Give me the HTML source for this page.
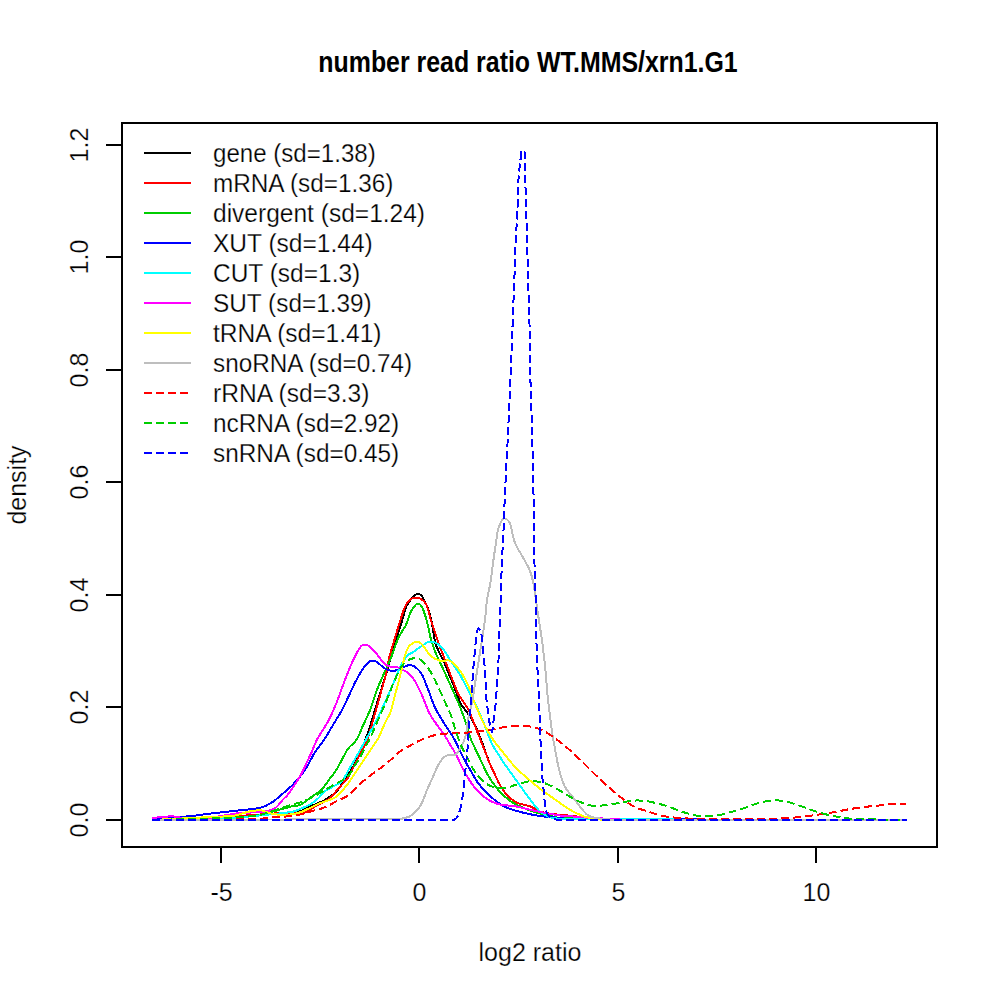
<!DOCTYPE html>
<html><head><meta charset="utf-8"><style>
html,body{margin:0;padding:0;background:#fff;width:1000px;height:1000px;overflow:hidden}
svg{display:block}
.t{font-family:"Liberation Sans",sans-serif;font-size:25px;fill:#000;stroke:#fff;stroke-width:0.25px}
.b{font-family:"Liberation Sans",sans-serif;font-size:30px;font-weight:bold;fill:#000}
</style></head><body>
<svg width="1000" height="1000" viewBox="0 0 1000 1000">
<rect x="0" y="0" width="1000" height="1000" fill="#fff"/>
<text x="528" y="72" text-anchor="middle" class="b" textLength="419.3960878243513" lengthAdjust="spacingAndGlyphs">number read ratio WT.MMS/xrn1.G1</text>
<text x="530" y="961" text-anchor="middle" class="t">log2 ratio</text>
<text x="0" y="0" transform="translate(26,485) rotate(-90)" text-anchor="middle" class="t">density</text>
<g shape-rendering="crispEdges">
<path d="M152.0,820.0 C157.3,819.9 162.7,819.7 168.0,819.6 C173.3,819.4 178.7,819.3 184.0,819.1 C189.3,819.0 194.5,819.0 200.0,818.7 C205.7,818.4 211.7,817.9 217.6,817.5 C223.5,817.1 229.3,816.7 235.2,816.3 C241.1,815.9 246.9,815.4 252.8,815.0 C258.7,814.6 264.5,814.2 270.4,813.8 C276.3,813.4 282.7,813.1 288.0,812.6 C292.4,812.2 296.1,812.3 300.0,811.2 C304.1,810.1 308.0,807.6 312.0,805.8 C316.0,804.0 320.1,802.6 324.0,800.4 C328.1,798.1 332.9,795.1 336.0,792.0 C338.6,789.4 340.0,786.4 342.0,783.6 C344.0,780.8 345.9,778.5 348.0,775.2 C350.9,770.6 355.2,763.4 357.6,758.4 C359.4,754.6 360.4,751.6 361.8,748.2 C363.2,744.8 364.5,741.9 366.0,738.0 C367.9,732.9 370.2,725.8 372.0,720.0 C373.7,714.5 375.2,709.3 376.8,704.0 C378.4,698.8 380.0,693.6 381.6,688.4 C383.2,683.2 384.8,678.1 386.4,672.8 C388.0,667.3 389.8,661.0 391.2,656.0 C392.4,652.0 393.3,648.8 394.4,645.2 C395.5,641.6 396.4,638.1 397.6,634.4 C398.8,630.5 400.2,626.7 401.6,622.4 C403.2,617.5 404.3,610.8 406.4,606.4 C408.0,603.0 410.0,600.2 412.0,598.0 C413.6,596.3 415.3,594.3 417.0,594.0 C418.4,593.7 420.0,594.3 421.2,595.2 C422.7,596.4 423.7,599.4 424.8,601.6 C426.0,603.9 427.0,606.1 428.0,608.8 C429.2,612.1 430.3,616.2 431.2,620.0 C432.1,623.9 432.7,628.0 433.4,632.0 C434.1,636.0 434.2,639.7 435.6,644.0 C437.4,649.5 441.7,656.8 444.0,662.0 C445.7,665.9 446.8,668.8 448.2,672.2 C449.6,675.6 451.0,678.9 452.4,682.4 C453.8,685.9 455.2,689.6 456.6,693.2 C458.0,696.8 458.9,700.6 460.8,704.0 C462.7,707.4 465.8,710.4 468.0,713.6 C470.2,716.8 472.0,719.5 474.0,723.2 C476.5,727.9 479.2,734.9 481.2,740.0 C482.9,744.2 484.0,747.7 485.4,751.6 C486.8,755.5 488.1,759.5 489.6,763.2 C491.1,766.7 492.8,770.0 494.4,773.4 C496.0,776.8 497.3,780.2 499.2,783.6 C501.2,787.2 503.5,791.2 506.4,794.4 C509.4,797.7 513.2,800.8 517.2,802.8 C521.2,804.8 526.4,804.8 530.4,806.4 C533.9,807.8 536.5,810.2 540.0,811.5 C543.7,812.8 547.7,813.4 552.0,814.0 C556.9,814.7 563.2,815.0 568.0,815.5 C572.0,815.9 575.3,816.3 579.0,816.8 C582.7,817.2 586.0,817.7 590.0,818.0 C594.6,818.4 600.0,818.5 605.0,818.8 C610.0,819.0 614.7,819.4 620.0,819.5 C626.0,819.7 632.7,819.5 639.0,819.5 C645.3,819.6 651.7,819.6 658.0,819.6 C664.3,819.6 670.7,819.6 677.0,819.6 C683.3,819.7 689.7,819.7 696.0,819.7 C702.3,819.7 708.7,819.7 715.0,819.7 C721.3,819.7 727.7,819.8 734.0,819.8 C740.3,819.8 746.7,819.8 753.0,819.8 C759.3,819.8 765.7,819.8 772.0,819.9 C778.3,819.9 784.7,819.9 791.0,819.9 C797.3,819.9 803.7,819.9 810.0,820.0 C816.3,820.0 822.7,820.0 829.0,820.0" fill="none" stroke="#000000" stroke-width="2" stroke-linejoin="round"/>
<path d="M152.0,820.0 C157.3,819.9 162.7,819.7 168.0,819.6 C173.3,819.4 178.7,819.3 184.0,819.1 C189.3,819.0 194.5,819.0 200.0,818.7 C205.7,818.4 211.7,817.9 217.6,817.5 C223.5,817.1 229.3,816.7 235.2,816.3 C241.1,815.9 246.9,815.4 252.8,815.0 C258.7,814.6 264.5,814.2 270.4,813.8 C276.3,813.4 282.4,812.6 288.0,812.6 C293.0,812.6 297.8,814.6 302.4,813.6 C307.2,812.5 311.6,808.4 316.2,805.8 C320.8,803.2 326.1,801.2 330.0,798.0 C333.6,795.1 336.0,791.2 339.0,787.8 C342.0,784.4 345.4,781.3 348.0,777.6 C350.6,773.8 352.3,769.3 354.4,765.2 C356.5,761.1 358.7,756.9 360.8,752.8 C362.9,748.7 365.6,744.4 367.2,740.4 C368.6,736.9 369.2,733.6 370.2,730.2 C371.2,726.8 372.1,723.8 373.2,720.0 C374.5,715.3 376.1,709.5 377.6,704.3 C379.1,699.0 380.5,693.8 382.0,688.5 C383.5,683.3 385.1,678.2 386.4,672.8 C387.7,667.3 388.4,661.1 389.6,656.0 C390.7,651.6 392.0,648.0 393.2,644.0 C394.4,640.0 395.6,635.9 396.8,632.0 C397.9,628.4 398.7,625.4 400.0,621.6 C401.6,616.8 403.2,609.7 405.6,605.6 C407.4,602.5 409.8,599.5 412.0,598.4 C413.6,597.6 415.3,597.9 416.8,598.0 C418.3,598.1 419.6,598.2 421.0,599.0 C422.7,600.0 424.6,601.6 426.0,604.0 C428.2,607.7 429.3,615.2 430.8,620.0 C432.1,624.0 433.2,627.2 434.4,630.8 C435.6,634.4 436.6,637.8 438.0,641.6 C439.6,646.1 441.6,651.2 443.4,656.0 C445.2,660.8 447.0,665.8 448.8,670.4 C450.4,674.6 452.0,678.4 453.6,682.4 C455.2,686.4 456.3,690.3 458.4,694.4 C460.9,699.1 465.4,703.9 468.0,708.8 C470.5,713.5 471.9,718.1 474.0,723.2 C476.3,728.9 479.1,736.3 481.2,741.6 C482.8,745.7 484.0,748.8 485.4,752.4 C486.8,756.0 488.1,759.7 489.6,763.2 C491.1,766.7 492.8,770.0 494.4,773.4 C496.0,776.8 497.3,780.2 499.2,783.6 C501.2,787.2 503.5,791.2 506.4,794.4 C509.4,797.7 513.2,800.8 517.2,802.8 C521.2,804.8 526.4,804.8 530.4,806.4 C533.9,807.8 536.5,810.2 540.0,811.5 C543.7,812.8 547.7,813.4 552.0,814.0 C556.9,814.7 563.2,815.0 568.0,815.5 C572.0,815.9 575.3,816.3 579.0,816.8 C582.7,817.2 586.0,817.7 590.0,818.0 C594.6,818.4 600.0,818.5 605.0,818.8 C610.0,819.0 614.7,819.4 620.0,819.5 C625.9,819.7 632.6,819.5 638.9,819.5 C645.1,819.5 651.4,819.6 657.7,819.6 C664.0,819.6 670.3,819.6 676.6,819.6 C682.9,819.6 689.1,819.6 695.4,819.6 C701.7,819.7 708.0,819.7 714.3,819.7 C720.6,819.7 726.9,819.7 733.1,819.7 C739.4,819.7 745.7,819.7 752.0,819.8 C758.3,819.8 764.6,819.8 770.9,819.8 C777.1,819.8 783.4,819.8 789.7,819.8 C796.0,819.8 802.3,819.8 808.6,819.9 C814.9,819.9 821.1,819.9 827.4,819.9 C833.7,819.9 840.0,819.9 846.3,819.9 C852.6,819.9 858.9,820.0 865.1,820.0 C871.4,820.0 877.7,820.0 884.0,820.0" fill="none" stroke="#FF0000" stroke-width="2" stroke-linejoin="round"/>
<path d="M152.0,820.0 C157.8,819.9 163.7,819.9 169.5,819.8 C175.3,819.7 181.2,819.7 187.0,819.6 C192.8,819.5 198.7,819.5 204.5,819.4 C210.3,819.3 216.8,819.5 222.0,819.2 C226.1,819.0 229.3,818.5 233.0,818.1 C236.7,817.7 240.0,817.5 244.0,817.0 C248.9,816.4 255.0,815.9 260.5,814.8 C266.0,813.7 271.5,811.9 277.0,810.4 C282.5,808.9 289.2,806.9 293.5,806.0 C296.1,805.4 297.7,805.9 300.0,805.0 C303.3,803.7 307.2,799.9 310.8,797.3 C314.4,794.7 318.6,792.6 321.6,789.6 C324.5,786.8 326.4,783.2 328.8,780.0 C331.2,776.8 333.8,773.8 336.0,770.4 C338.2,767.0 340.0,763.2 342.0,759.6 C344.0,756.0 345.6,752.1 348.0,748.8 C350.4,745.5 354.0,743.5 356.4,740.0 C359.1,736.0 360.8,730.4 363.0,725.6 C365.2,720.8 367.7,715.8 369.6,711.2 C371.3,707.1 372.4,703.2 373.8,699.2 C375.2,695.2 376.5,691.0 378.0,687.2 C379.3,683.8 380.8,680.8 382.2,677.6 C383.6,674.4 385.0,671.1 386.4,668.0 C387.7,665.0 389.1,662.3 390.4,659.2 C391.8,655.8 393.1,652.0 394.4,648.4 C395.7,644.8 396.7,641.2 398.4,637.6 C400.3,633.6 403.4,630.0 405.6,625.6 C408.0,620.7 409.5,613.5 412.0,609.6 C413.8,606.9 416.2,603.6 418.0,603.5 C419.3,603.4 420.5,604.9 421.6,606.4 C423.3,608.7 424.4,613.1 425.6,616.8 C426.9,620.8 427.8,625.6 428.8,629.6 C429.7,633.2 430.1,636.3 431.2,640.0 C432.4,644.3 434.2,649.2 436.0,653.6 C437.7,657.8 439.7,661.5 441.6,665.6 C443.6,669.9 445.6,674.4 447.6,678.8 C449.6,683.2 451.5,687.3 453.6,692.0 C455.9,697.3 458.7,703.5 460.8,708.8 C462.6,713.4 464.1,717.4 465.6,722.0 C467.3,727.1 468.4,732.8 470.4,738.0 C472.4,743.3 475.4,749.0 477.6,753.6 C479.4,757.4 480.8,760.4 482.4,763.8 C484.0,767.2 485.1,770.3 487.2,774.0 C489.9,778.8 493.9,784.9 498.0,789.6 C502.0,794.1 506.5,798.4 511.2,801.6 C515.7,804.7 520.7,806.8 525.6,808.8 C530.3,810.8 535.6,812.4 540.0,813.6 C543.6,814.6 546.7,815.1 550.0,815.8 C553.3,816.5 556.4,817.5 560.0,818.0 C564.1,818.5 568.9,818.3 573.3,818.5 C577.8,818.7 582.2,818.8 586.7,819.0 C591.1,819.2 595.2,819.4 600.0,819.5 C605.8,819.6 612.8,819.5 619.2,819.5 C625.6,819.6 631.9,819.6 638.3,819.6 C644.7,819.6 651.1,819.6 657.5,819.6 C663.9,819.6 670.3,819.7 676.7,819.7 C683.1,819.7 689.4,819.7 695.8,819.7 C702.2,819.7 708.6,819.7 715.0,819.8 C721.4,819.8 727.8,819.8 734.2,819.8 C740.6,819.8 746.9,819.8 753.3,819.8 C759.7,819.8 766.1,819.9 772.5,819.9 C778.9,819.9 785.3,819.9 791.7,819.9 C798.1,819.9 804.4,819.9 810.8,820.0 C817.2,820.0 823.6,820.0 830.0,820.0" fill="none" stroke="#00CD00" stroke-width="2" stroke-linejoin="round"/>
<path d="M152.0,820.0 C158.1,819.4 164.1,818.8 170.2,818.1 C176.3,817.5 183.4,816.8 188.4,816.3 C192.0,815.9 194.0,815.7 197.5,815.3 C202.1,814.7 208.3,813.8 213.6,813.2 C218.7,812.6 223.7,812.1 228.8,811.5 C233.9,811.0 238.8,810.5 244.0,809.9 C249.4,809.2 255.6,809.1 260.5,807.7 C264.6,806.5 268.0,804.9 271.5,802.7 C275.3,800.4 278.9,797.0 282.5,793.9 C286.2,790.7 290.0,787.7 293.5,784.0 C297.3,780.0 301.6,775.0 304.5,770.8 C306.9,767.4 308.2,764.3 310.1,761.0 C311.9,757.7 313.4,754.5 315.6,751.2 C318.0,747.5 321.5,743.7 324.0,740.0 C326.3,736.6 328.0,733.3 330.0,730.0 C332.0,726.7 334.0,723.3 336.0,720.0 C338.0,716.7 340.0,713.7 342.0,710.0 C344.4,705.6 346.8,700.0 349.2,695.0 C351.6,690.0 353.9,684.7 356.4,680.0 C358.7,675.7 361.0,671.4 363.6,668.0 C365.8,665.1 368.4,661.6 370.8,660.8 C372.4,660.2 373.8,660.7 375.6,661.4 C378.4,662.5 382.1,667.0 385.2,668.6 C387.7,669.9 390.0,670.9 392.4,671.0 C394.8,671.1 397.0,670.0 399.6,669.2 C402.9,668.2 407.0,664.6 410.4,665.0 C413.8,665.4 417.4,668.5 420.0,671.6 C423.2,675.4 425.3,682.6 427.2,687.2 C428.7,690.8 429.6,693.6 430.8,696.8 C432.0,700.0 432.7,702.8 434.4,706.4 C436.7,711.3 440.7,717.8 444.0,723.2 C447.1,728.3 450.9,733.3 453.6,738.0 C456.0,742.1 457.6,746.0 459.6,750.0 C461.6,754.0 463.5,758.2 465.6,762.0 C467.5,765.6 469.6,768.8 471.6,772.2 C473.6,775.6 475.0,778.9 477.6,782.4 C480.7,786.7 485.2,791.6 489.6,795.6 C494.0,799.6 498.7,803.6 504.0,806.4 C509.5,809.3 515.9,810.8 522.0,812.4 C528.0,814.0 534.3,815.1 540.0,816.0 C545.2,816.8 550.0,817.0 555.0,817.5 C560.0,818.0 564.7,818.7 570.0,819.0 C575.9,819.3 582.4,819.0 588.7,819.1 C594.9,819.1 601.1,819.1 607.3,819.1 C613.6,819.2 619.8,819.2 626.0,819.2 C632.2,819.2 638.4,819.2 644.7,819.3 C650.9,819.3 657.1,819.3 663.3,819.3 C669.6,819.4 675.8,819.4 682.0,819.4 C688.2,819.4 694.4,819.4 700.7,819.5 C706.9,819.5 713.1,819.5 719.3,819.5 C725.6,819.6 731.8,819.6 738.0,819.6 C744.2,819.6 750.4,819.6 756.7,819.7 C762.9,819.7 769.1,819.7 775.3,819.7 C781.6,819.8 787.8,819.8 794.0,819.8 C800.2,819.8 806.4,819.8 812.7,819.9 C818.9,819.9 825.1,819.9 831.3,819.9 C837.6,820.0 843.8,820.0 850.0,820.0" fill="none" stroke="#0000FF" stroke-width="2" stroke-linejoin="round"/>
<path d="M152.0,820.0 C157.4,819.9 162.8,819.7 168.2,819.6 C173.6,819.5 179.0,819.4 184.4,819.2 C189.8,819.1 195.2,819.0 200.6,818.9 C206.0,818.7 211.4,818.6 216.8,818.5 C222.2,818.4 228.1,818.4 233.0,818.1 C237.0,817.9 240.3,817.4 244.0,817.0 C247.7,816.6 251.3,816.3 255.0,815.9 C258.7,815.5 262.3,815.2 266.0,814.8 C269.7,814.4 273.0,814.2 277.0,813.7 C281.9,813.1 289.3,812.6 293.5,811.5 C296.2,810.8 297.6,810.0 300.0,809.0 C303.0,807.8 306.9,806.3 310.0,804.5 C312.9,802.8 315.6,800.7 318.0,798.5 C320.2,796.5 321.6,793.9 324.0,792.0 C326.6,789.9 330.0,788.4 333.0,786.6 C336.0,784.8 339.5,783.7 342.0,781.2 C344.6,778.6 346.0,774.4 348.0,771.0 C350.0,767.6 352.1,764.2 354.0,760.8 C355.9,757.6 357.6,754.4 359.4,751.2 C361.2,748.0 363.0,744.9 364.8,741.6 C366.8,738.1 368.8,734.4 370.8,730.8 C372.8,727.2 374.8,724.0 376.8,720.0 C379.2,715.3 381.6,709.5 384.0,704.2 C386.4,698.9 389.2,693.1 391.2,688.4 C392.8,684.6 394.0,681.6 395.4,678.2 C396.8,674.8 397.8,671.5 399.6,668.0 C401.8,663.8 405.4,657.1 408.0,654.8 C409.4,653.5 410.5,653.7 412.0,652.8 C414.3,651.5 417.2,649.0 420.0,647.2 C423.0,645.3 426.4,642.0 429.6,641.6 C432.4,641.2 435.6,642.5 438.0,644.0 C440.4,645.5 442.1,648.0 444.0,650.4 C446.1,653.1 447.8,656.2 450.0,659.6 C452.8,663.9 456.9,669.6 459.6,674.0 C461.8,677.6 463.2,680.8 465.0,684.2 C466.8,687.6 468.5,690.7 470.4,694.4 C472.7,698.8 475.3,703.8 477.6,708.8 C480.1,714.1 482.4,719.9 484.8,725.6 C487.2,731.6 489.5,739.0 492.0,744.0 C493.9,747.8 496.0,750.4 498.0,753.6 C500.0,756.8 502.0,760.1 504.0,763.2 C506.0,766.1 508.0,768.8 510.0,771.6 C512.0,774.4 514.0,777.2 516.0,780.0 C518.0,782.8 520.0,785.6 522.0,788.4 C524.0,791.2 525.6,793.6 528.0,796.8 C531.3,801.1 536.3,808.3 540.4,811.8 C543.4,814.4 546.1,815.8 549.5,817.0 C553.3,818.3 557.7,818.6 562.5,819.0 C568.4,819.5 575.7,819.1 582.3,819.1 C588.9,819.1 595.5,819.1 602.1,819.2 C608.7,819.2 615.3,819.2 621.9,819.2 C628.5,819.3 635.1,819.3 641.7,819.3 C648.3,819.4 654.9,819.4 661.5,819.4 C668.1,819.4 674.7,819.5 681.2,819.5 C687.8,819.5 694.4,819.6 701.0,819.6 C707.6,819.6 714.2,819.6 720.8,819.7 C727.4,819.7 734.0,819.7 740.6,819.8 C747.2,819.8 753.8,819.8 760.4,819.8 C767.0,819.9 773.6,819.9 780.2,819.9 C786.8,819.9 793.4,820.0 800.0,820.0" fill="none" stroke="#00FFFF" stroke-width="2" stroke-linejoin="round"/>
<path d="M152.0,819.5 C152.5,819.0 152.7,818.4 153.4,818.0 C154.8,817.3 157.8,817.6 160.4,817.4 C163.8,817.1 169.0,816.2 172.3,816.3 C174.7,816.4 176.1,817.2 178.6,817.4 C182.3,817.8 187.8,817.6 192.6,817.7 C197.6,817.8 203.0,818.3 208.0,818.0 C212.8,817.7 217.1,816.7 222.0,815.9 C227.3,815.1 233.5,813.7 238.5,813.2 C242.5,812.8 245.8,812.8 249.5,812.6 C253.2,812.4 257.2,812.3 260.5,812.0 C263.2,811.7 265.5,811.7 268.0,811.0 C270.7,810.3 273.6,809.2 276.0,807.5 C278.5,805.6 280.4,802.3 282.5,800.0 C284.4,798.0 286.3,796.6 288.0,794.5 C289.9,792.2 291.6,789.3 293.5,786.5 C295.6,783.3 298.1,779.7 300.0,776.4 C301.7,773.4 302.8,770.9 304.5,767.5 C306.7,762.9 309.8,756.1 312.0,751.2 C313.8,747.1 315.0,743.6 316.8,740.0 C318.6,736.5 320.8,733.3 322.8,730.0 C324.8,726.7 326.8,723.8 328.8,720.0 C331.2,715.4 333.8,709.2 336.0,704.0 C338.0,699.1 339.6,694.4 341.4,689.6 C343.2,684.8 344.8,680.2 346.8,675.2 C349.0,669.8 351.3,663.6 354.0,658.4 C356.5,653.6 359.5,646.8 362.4,645.2 C364.0,644.3 365.6,644.6 367.2,645.2 C369.5,646.0 372.0,648.7 374.4,651.2 C377.5,654.4 381.2,660.7 384.0,663.2 C385.7,664.7 386.8,665.4 388.8,666.2 C391.6,667.3 396.1,666.6 399.6,668.0 C403.7,669.7 408.3,672.8 411.6,676.4 C415.2,680.3 417.7,686.2 420.0,690.8 C422.0,694.8 423.2,698.4 424.8,702.2 C426.4,706.0 427.5,709.7 429.6,713.6 C432.1,718.2 436.5,724.2 439.2,728.0 C441.0,730.6 442.4,732.0 444.0,734.4 C445.8,737.1 447.6,740.4 449.4,743.4 C451.2,746.4 453.1,749.2 454.8,752.4 C456.7,755.8 458.4,759.6 460.2,763.2 C462.0,766.8 463.3,770.2 465.6,774.0 C468.5,778.8 472.5,785.2 476.4,789.6 C479.8,793.4 483.4,796.8 487.2,799.2 C490.6,801.4 493.8,802.8 498.0,804.0 C503.1,805.5 510.6,805.4 516.0,806.4 C520.4,807.2 524.0,808.3 528.0,809.2 C532.0,810.1 536.2,811.2 540.0,812.0 C543.5,812.7 546.7,813.2 550.0,813.8 C553.3,814.3 556.5,815.1 560.0,815.5 C563.9,816.0 568.3,816.2 572.5,816.5 C576.7,816.8 580.5,817.2 585.0,817.5 C590.3,817.9 596.7,818.2 602.5,818.5 C608.3,818.8 614.1,819.3 620.0,819.5 C626.0,819.7 632.0,819.5 638.0,819.5 C644.0,819.6 650.0,819.6 656.0,819.6 C662.0,819.6 668.0,819.6 674.0,819.6 C680.0,819.7 686.0,819.7 692.0,819.7 C698.0,819.7 704.0,819.7 710.0,819.8 C716.0,819.8 722.0,819.8 728.0,819.8 C734.0,819.8 740.0,819.8 746.0,819.9 C752.0,819.9 758.0,819.9 764.0,819.9 C770.0,819.9 776.0,819.9 782.0,820.0 C788.0,820.0 794.0,820.0 800.0,820.0" fill="none" stroke="#FF00FF" stroke-width="2" stroke-linejoin="round"/>
<path d="M152.0,820.0 C157.4,819.7 162.8,819.5 168.2,819.2 C173.6,818.9 179.0,818.6 184.4,818.4 C189.8,818.1 195.2,817.8 200.6,817.5 C206.0,817.3 211.4,817.0 216.8,816.7 C222.2,816.4 227.6,816.7 233.0,815.9 C238.5,815.0 244.4,812.4 249.5,811.5 C253.8,810.7 257.8,810.0 261.6,810.4 C265.1,810.8 267.7,813.0 271.5,813.7 C276.2,814.6 283.0,815.1 288.0,814.8 C292.3,814.5 295.7,813.8 300.0,812.4 C305.5,810.6 312.0,806.6 318.0,804.0 C324.0,801.4 330.9,800.3 336.0,796.8 C340.9,793.4 344.8,787.7 348.0,783.6 C350.5,780.4 352.0,777.6 354.0,774.6 C356.0,771.6 358.0,768.6 360.0,765.6 C362.0,762.6 364.0,759.6 366.0,756.6 C368.0,753.6 370.0,750.6 372.0,747.6 C374.0,744.6 376.3,741.9 378.0,738.8 C379.7,735.8 380.8,732.5 382.2,729.4 C383.6,726.3 385.0,722.8 386.4,720.0 C387.6,717.6 388.9,716.3 390.0,713.6 C391.6,709.6 392.8,703.2 394.2,698.0 C395.6,692.8 397.1,687.5 398.4,682.4 C399.7,677.5 400.8,672.8 402.0,668.0 C403.2,663.2 404.2,657.5 405.6,653.6 C406.6,650.7 407.6,648.1 408.8,646.4 C409.7,645.3 410.5,644.7 411.6,644.0 C412.9,643.1 414.8,641.6 416.4,641.6 C418.1,641.6 420.0,642.7 421.6,644.0 C423.4,645.5 424.8,648.3 426.4,650.4 C427.9,652.3 428.8,654.4 430.8,656.0 C433.2,658.0 437.1,660.0 440.4,660.8 C443.5,661.5 447.0,659.6 450.0,660.8 C453.5,662.3 456.7,666.7 459.6,670.4 C462.8,674.5 465.6,679.7 468.0,684.8 C470.5,690.1 472.1,696.8 474.0,701.6 C475.5,705.3 476.8,708.0 478.2,711.2 C479.6,714.4 480.6,717.2 482.4,720.8 C484.9,725.8 488.4,732.5 492.0,738.0 C495.6,743.5 500.0,748.5 504.0,753.6 C508.0,758.5 511.8,763.7 516.0,768.0 C519.9,772.0 523.7,775.1 528.0,778.8 C532.7,782.8 538.1,787.3 543.0,791.0 C547.4,794.3 551.7,797.1 556.0,800.1 C560.3,803.1 564.6,806.6 569.0,809.2 C573.2,811.7 578.4,814.2 582.0,815.7 C584.5,816.7 586.0,817.1 588.5,817.7 C591.8,818.5 595.7,819.2 600.0,819.5 C605.4,819.9 612.1,819.5 618.2,819.5 C624.2,819.6 630.3,819.6 636.4,819.6 C642.4,819.6 648.5,819.6 654.5,819.6 C660.6,819.7 666.7,819.7 672.7,819.7 C678.8,819.7 684.8,819.7 690.9,819.7 C697.0,819.7 703.0,819.8 709.1,819.8 C715.2,819.8 721.2,819.8 727.3,819.8 C733.3,819.8 739.4,819.8 745.5,819.9 C751.5,819.9 757.6,819.9 763.6,819.9 C769.7,819.9 775.8,819.9 781.8,820.0 C787.9,820.0 793.9,820.0 800.0,820.0" fill="none" stroke="#FFFF00" stroke-width="2" stroke-linejoin="round"/>
<path d="M152.0,820.0 C158.3,820.0 164.7,819.9 171.0,819.9 C177.4,819.9 183.7,819.9 190.1,819.8 C196.4,819.8 202.8,819.8 209.1,819.8 C215.5,819.7 221.8,819.7 228.2,819.7 C234.5,819.7 240.9,819.6 247.2,819.6 C253.6,819.6 259.9,819.6 266.3,819.5 C272.6,819.5 279.0,819.5 285.3,819.5 C291.7,819.4 298.0,819.4 304.4,819.4 C310.7,819.4 317.1,819.3 323.4,819.3 C329.8,819.3 336.1,819.3 342.5,819.2 C348.8,819.2 355.2,819.2 361.5,819.2 C367.9,819.1 374.2,819.1 380.6,819.1 C386.9,819.1 394.2,819.7 399.6,819.0 C403.8,818.4 407.1,817.9 410.4,816.0 C414.0,813.9 417.3,810.4 420.0,806.4 C423.1,801.8 425.0,794.7 427.2,789.6 C429.1,785.3 430.8,781.6 432.6,777.6 C434.4,773.6 436.0,769.2 438.0,765.6 C439.8,762.5 441.9,759.0 444.0,757.2 C445.5,755.9 447.1,755.2 448.8,754.8 C450.6,754.4 453.0,755.7 454.8,754.8 C457.1,753.7 459.1,750.5 460.8,747.6 C462.8,744.2 464.4,739.9 465.6,735.6 C466.9,730.8 467.1,724.6 468.0,720.0 C468.7,716.3 469.5,713.3 470.2,710.0 C471.0,706.7 471.8,703.8 472.5,700.0 C473.5,695.0 474.3,688.3 475.2,682.5 C476.2,676.7 477.2,670.3 478.0,665.0 C478.7,660.5 479.3,656.7 480.0,652.5 C480.7,648.3 481.4,643.9 482.0,640.0 C482.5,636.5 483.0,633.3 483.5,630.0 C484.0,626.7 484.6,623.3 485.0,620.0 C485.4,616.7 485.7,613.3 486.0,610.0 C486.3,606.7 486.4,603.8 487.0,600.0 C487.7,595.1 489.5,588.4 490.4,583.0 C491.2,578.1 491.7,573.5 492.3,568.8 C492.9,564.1 493.5,559.2 494.2,554.6 C494.8,550.3 495.5,546.3 496.1,542.2 C496.7,538.1 496.7,533.8 498.0,529.8 C499.3,525.8 501.4,519.0 503.7,518.4 C505.4,518.0 508.0,520.3 509.4,522.2 C511.2,524.6 511.3,529.2 512.2,532.7 C513.2,536.2 513.5,539.4 515.1,543.2 C517.2,548.3 521.9,555.1 524.6,560.3 C526.8,564.5 528.8,567.5 530.3,571.7 C532.0,576.3 533.2,582.1 534.1,586.9 C534.9,591.2 535.3,595.1 535.9,599.2 C536.4,603.4 537.0,607.3 537.6,611.6 C538.3,616.2 539.1,621.1 539.8,625.8 C540.5,630.5 541.4,635.4 542.0,640.0 C542.6,644.3 543.0,648.3 543.5,652.5 C544.0,656.7 544.5,660.5 545.0,665.0 C545.5,670.3 546.0,676.7 546.5,682.5 C547.0,688.3 547.4,694.3 548.0,700.0 C548.6,705.5 549.4,710.8 550.0,716.2 C550.7,721.7 551.4,727.6 552.1,732.5 C552.7,736.5 553.4,739.9 554.0,743.5 C554.7,747.2 555.2,750.5 556.0,754.6 C557.0,759.9 558.3,767.2 559.9,772.8 C561.4,777.9 562.7,782.7 565.1,787.1 C567.5,791.4 571.3,795.0 574.2,798.8 C576.9,802.4 579.4,806.2 582.0,809.2 C584.2,811.7 586.1,814.3 588.5,815.7 C590.5,816.9 592.4,817.1 595.0,817.7 C598.9,818.5 604.6,819.2 610.0,819.5 C616.1,819.9 623.2,819.5 629.8,819.5 C636.4,819.5 643.0,819.6 649.6,819.6 C656.2,819.6 662.8,819.6 669.4,819.6 C676.0,819.6 682.6,819.6 689.2,819.6 C695.8,819.6 702.4,819.7 709.0,819.7 C715.6,819.7 722.2,819.7 728.8,819.7 C735.4,819.7 742.0,819.7 748.6,819.7 C755.2,819.7 761.8,819.8 768.4,819.8 C775.0,819.8 781.6,819.8 788.2,819.8 C794.8,819.8 801.4,819.8 808.0,819.8 C814.6,819.8 821.2,819.9 827.8,819.9 C834.4,819.9 841.0,819.9 847.6,819.9 C854.2,819.9 860.8,819.9 867.4,819.9 C874.0,819.9 880.6,820.0 887.2,820.0 C893.8,820.0 900.4,820.0 907.0,820.0" fill="none" stroke="#BEBEBE" stroke-width="2" stroke-linejoin="round"/>
<path d="M152.0,820.0 C158.0,819.9 164.1,819.9 170.1,819.8 C176.1,819.7 182.1,819.6 188.2,819.6 C194.2,819.5 200.2,819.4 206.2,819.4 C212.3,819.3 218.3,819.2 224.3,819.1 C230.4,819.1 236.4,819.0 242.4,818.9 C248.4,818.8 254.6,819.0 260.5,818.7 C266.1,818.4 271.5,817.5 277.0,817.0 C282.5,816.5 288.7,816.6 293.5,815.9 C297.3,815.3 300.2,814.5 303.6,813.6 C307.0,812.7 310.4,811.6 313.8,810.6 C317.2,809.6 320.5,809.0 324.0,807.6 C327.9,806.1 332.0,803.6 336.0,801.6 C340.0,799.6 344.4,798.1 348.0,795.6 C351.4,793.2 354.0,790.0 357.0,787.2 C360.0,784.4 362.9,781.3 366.0,778.8 C368.9,776.4 372.0,774.4 375.0,772.2 C378.0,770.0 381.0,768.0 384.0,765.6 C387.1,763.2 390.0,760.4 393.0,757.8 C396.0,755.2 398.9,752.1 402.0,750.0 C404.9,748.0 408.0,746.8 411.0,745.2 C414.0,743.6 416.4,741.9 420.0,740.4 C424.9,738.3 431.9,735.6 438.0,734.4 C443.9,733.2 450.0,733.6 456.0,733.2 C462.0,732.8 468.0,732.6 474.0,732.0 C480.0,731.4 486.6,730.5 492.0,729.6 C496.4,728.9 499.6,727.8 504.0,727.2 C509.4,726.5 516.6,725.9 522.0,726.0 C526.4,726.1 530.3,726.3 534.0,727.2 C537.3,728.0 539.8,729.0 543.0,730.6 C547.0,732.6 551.7,735.9 556.0,739.0 C560.4,742.2 564.7,745.7 569.0,749.4 C573.4,753.2 577.7,757.4 582.0,761.5 C586.4,765.7 590.6,770.3 595.0,774.5 C599.3,778.6 603.6,782.6 608.0,786.5 C612.3,790.3 616.6,794.1 621.0,797.5 C625.3,800.8 629.5,804.3 634.0,806.6 C638.2,808.8 642.5,809.7 647.0,811.2 C651.9,812.8 657.5,814.8 662.4,815.9 C666.8,816.9 671.0,817.2 675.0,817.6 C678.7,818.0 682.0,818.1 685.5,818.3 C689.0,818.5 692.1,818.9 696.0,819.0 C700.8,819.1 706.8,818.9 712.2,818.9 C717.7,818.9 723.1,818.9 728.5,818.8 C733.9,818.8 739.3,818.8 744.7,818.8 C750.1,818.7 755.5,818.7 761.0,818.7 C766.4,818.7 771.9,818.8 777.2,818.6 C782.2,818.5 786.9,818.2 791.7,817.8 C796.5,817.4 801.4,817.0 806.2,816.4 C811.0,815.8 815.9,814.9 820.7,814.2 C825.5,813.5 830.4,812.8 835.2,812.0 C840.0,811.1 844.9,809.9 849.7,809.1 C854.5,808.3 859.4,807.6 864.2,807.0 C869.0,806.4 873.9,806.0 878.7,805.5 C883.5,805.0 888.5,804.4 893.2,804.1 C897.6,803.8 901.9,803.9 906.2,803.8" fill="none" stroke="#FF0000" stroke-width="2" stroke-dasharray="8 4" stroke-linejoin="round"/>
<path d="M152.0,820.0 C158.5,819.8 165.0,819.7 171.5,819.5 C178.0,819.3 184.5,819.2 191.0,819.0 C197.5,818.8 204.0,818.7 210.5,818.5 C217.0,818.3 223.9,818.4 230.0,818.0 C235.3,817.7 240.0,817.0 245.0,816.5 C250.0,816.0 255.1,816.0 260.0,815.0 C264.8,814.0 269.3,812.0 274.0,810.5 C278.7,809.0 283.0,807.6 288.0,806.0 C293.8,804.1 300.9,802.5 306.7,800.0 C312.1,797.7 316.8,794.7 321.6,792.0 C326.2,789.4 330.4,786.8 334.8,784.2 C339.2,781.6 344.7,779.6 348.0,776.4 C350.8,773.6 352.0,770.0 354.0,766.8 C356.0,763.6 358.1,760.5 360.0,757.2 C361.9,753.9 363.6,750.4 365.4,747.0 C367.2,743.6 369.0,740.7 370.8,736.8 C373.1,731.9 375.7,725.3 378.0,720.0 C380.1,715.2 382.1,710.9 384.0,706.4 C385.9,702.0 387.6,697.6 389.4,693.2 C391.2,688.8 392.7,684.5 394.8,680.0 C397.2,675.0 399.7,668.1 403.2,664.4 C406.0,661.4 409.7,659.0 412.8,658.4 C415.3,657.9 417.6,658.2 420.0,659.6 C423.9,661.8 429.1,669.4 432.0,674.0 C434.3,677.5 435.2,680.8 436.8,684.2 C438.4,687.6 440.0,690.9 441.6,694.4 C443.2,697.9 444.8,701.6 446.4,705.2 C448.0,708.8 449.7,712.0 451.2,716.0 C453.0,720.8 454.2,726.7 456.0,732.0 C457.8,737.3 459.9,742.9 462.0,747.6 C463.9,751.8 466.0,755.2 468.0,759.0 C470.0,762.8 471.4,766.6 474.0,770.4 C477.1,774.8 481.7,780.7 486.0,783.6 C489.4,786.0 493.5,787.0 496.8,787.8 C499.4,788.4 501.3,788.7 504.0,788.4 C507.5,788.0 511.8,785.9 516.0,784.8 C520.5,783.6 525.4,781.6 530.0,781.3 C534.4,781.0 538.8,781.5 543.0,782.6 C547.4,783.8 551.7,786.2 556.0,788.4 C560.4,790.7 564.6,793.8 569.0,796.2 C573.3,798.6 577.6,801.1 582.0,802.7 C586.2,804.3 590.6,805.7 595.0,806.0 C599.3,806.3 603.7,805.2 608.0,804.7 C612.3,804.1 616.9,803.4 621.0,802.7 C624.7,802.1 627.7,801.1 631.4,800.8 C635.4,800.4 640.0,800.4 644.2,800.8 C648.4,801.2 652.7,802.3 656.8,803.3 C660.7,804.2 664.1,805.1 668.0,806.4 C672.4,807.9 677.3,810.2 682.0,811.7 C686.6,813.2 691.6,814.8 696.0,815.5 C699.9,816.1 703.6,815.9 707.2,815.9 C710.6,815.9 713.5,816.0 717.0,815.5 C721.3,814.9 726.3,813.3 731.0,812.0 C735.7,810.7 740.4,809.3 745.0,807.8 C749.7,806.3 754.4,804.1 759.0,802.9 C763.3,801.8 767.4,800.8 771.7,800.5 C775.9,800.2 780.1,800.4 784.5,801.2 C789.2,802.0 794.2,803.9 799.0,805.5 C803.9,807.1 808.6,809.0 813.5,810.6 C818.3,812.2 823.4,813.8 828.0,814.9 C832.1,815.9 835.9,816.5 839.6,817.1 C843.1,817.7 846.0,818.2 849.7,818.6 C854.1,819.0 859.4,819.1 864.2,819.3 C869.0,819.5 873.7,819.5 878.5,819.5 C883.2,819.6 888.0,819.7 892.7,819.8 C897.5,819.8 902.2,819.9 907.0,820.0" fill="none" stroke="#00CD00" stroke-width="2" stroke-dasharray="8 4" stroke-linejoin="round"/>
<path d="M152.0,820.0 C158.3,820.0 164.6,820.0 170.9,820.0 C177.2,820.0 183.5,819.9 189.8,819.9 C196.2,819.9 202.5,819.9 208.8,819.9 C215.1,819.9 221.4,819.9 227.7,819.9 C234.0,819.9 240.3,819.9 246.6,819.8 C252.9,819.8 259.2,819.8 265.6,819.8 C271.9,819.8 278.2,819.8 284.5,819.8 C290.8,819.8 297.1,819.8 303.4,819.8 C309.7,819.7 316.0,819.7 322.3,819.7 C328.6,819.7 334.9,819.7 341.2,819.7 C347.6,819.7 353.9,819.7 360.2,819.7 C366.5,819.6 372.8,819.6 379.1,819.6 C385.4,819.6 391.7,819.6 398.0,819.6 C404.3,819.6 410.6,819.6 416.9,819.6 C423.3,819.6 429.6,819.5 435.9,819.5 C442.2,819.5 450.9,821.8 454.8,819.5 C457.6,817.9 458.3,814.7 459.6,811.2 C461.4,806.2 462.4,797.7 463.2,792.0 C463.8,787.5 464.0,784.0 464.4,780.0 C464.8,776.0 465.2,772.0 465.6,768.0 C466.0,764.0 466.4,760.0 466.8,756.0 C467.2,752.0 467.7,748.0 468.0,744.0 C468.3,740.0 468.4,736.0 468.6,732.0 C468.8,728.0 468.9,723.8 469.2,720.0 C469.4,716.5 469.8,713.3 470.1,710.0 C470.4,706.7 470.7,703.3 471.0,700.0 C471.3,696.7 471.5,693.3 471.8,690.0 C472.0,686.7 472.2,683.3 472.5,680.0 C472.8,676.7 473.0,673.3 473.2,670.0 C473.5,666.7 473.7,663.3 474.0,660.0 C474.3,656.7 474.7,653.3 475.0,650.0 C475.3,646.7 475.5,643.5 476.0,640.0 C476.6,636.2 477.4,628.1 478.5,628.0 C479.3,627.9 480.8,632.2 481.5,635.0 C482.5,639.0 482.6,645.5 483.0,650.0 C483.4,653.7 483.7,656.7 484.0,660.0 C484.3,663.3 484.7,666.3 485.0,670.0 C485.3,674.5 485.5,680.0 485.8,685.0 C486.0,690.0 486.1,695.3 486.5,700.0 C486.9,704.1 487.5,707.7 488.1,711.5 C488.6,715.3 488.9,719.4 489.6,723.0 C490.2,726.2 491.3,732.0 492.0,732.0 C492.8,731.9 493.2,722.7 493.8,718.0 C494.4,713.3 495.1,709.0 495.6,704.0 C496.2,698.2 496.6,690.7 497.0,685.0 C497.3,680.4 497.5,676.7 497.8,672.5 C498.0,668.3 498.3,664.4 498.5,660.0 C498.7,655.2 498.8,650.0 499.0,645.0 C499.2,640.0 499.3,634.8 499.5,630.0 C499.7,625.6 499.8,621.7 500.0,617.5 C500.2,613.3 500.3,609.3 500.5,605.0 C500.7,600.5 500.8,595.9 500.9,591.3 C501.1,586.8 501.2,582.2 501.4,577.7 C501.5,573.1 501.6,568.9 501.8,564.0 C502.0,558.2 502.4,551.3 502.8,545.0 C503.1,538.7 503.4,532.3 503.7,526.0 C504.0,519.7 504.2,513.3 504.4,507.0 C504.7,500.7 504.9,494.3 505.2,488.0 C505.5,481.7 505.9,475.3 506.2,469.0 C506.5,462.7 506.9,456.0 507.2,450.0 C507.5,444.5 507.7,439.5 507.9,434.2 C508.2,429.0 508.4,423.8 508.7,418.5 C508.9,413.2 509.2,408.0 509.4,402.8 C509.7,397.5 510.0,392.2 510.2,387.0 C510.4,381.9 510.6,377.0 510.8,372.0 C511.0,367.0 511.2,362.0 511.4,357.0 C511.6,352.0 511.8,347.2 512.0,342.0 C512.2,336.3 512.4,330.0 512.6,324.0 C512.9,318.0 513.1,312.0 513.3,306.0 C513.5,300.0 513.8,294.0 514.0,288.0 C514.2,282.0 514.5,275.9 514.7,270.0 C514.9,264.3 515.1,258.8 515.3,253.2 C515.5,247.6 515.7,241.4 515.9,236.4 C516.1,232.3 516.4,228.9 516.6,225.2 C516.8,221.5 517.1,217.8 517.3,214.0 C517.5,209.9 517.5,205.6 517.6,201.4 C517.8,197.2 517.8,193.0 518.0,188.8 C518.2,184.6 518.4,180.4 518.7,176.2 C519.1,172.0 519.5,167.9 520.1,163.6 C520.7,159.2 520.8,151.2 522.2,150.3 C522.8,149.9 523.8,150.3 524.3,151.0 C525.5,152.6 524.5,159.4 524.6,163.6 C524.8,167.8 524.8,172.1 525.0,176.2 C525.1,180.2 525.4,184.1 525.5,188.1 C525.7,192.1 526.0,195.9 526.1,200.0 C526.3,204.5 526.3,209.3 526.4,214.0 C526.5,218.7 526.6,223.3 526.7,228.0 C526.8,232.7 526.9,237.3 527.1,242.0 C527.2,246.7 527.3,251.3 527.4,256.0 C527.6,260.7 527.7,265.0 527.8,270.0 C528.0,275.6 528.2,282.0 528.4,288.0 C528.6,294.0 528.7,300.0 528.9,306.0 C529.1,312.0 529.4,318.0 529.5,324.0 C529.6,330.0 529.7,336.0 529.8,342.0 C529.9,348.0 530.0,354.0 530.1,360.0 C530.2,366.0 530.3,372.0 530.4,378.0 C530.5,384.0 530.8,390.0 530.9,396.0 C531.1,402.0 531.3,408.0 531.5,414.0 C531.6,420.0 531.8,426.0 532.0,432.0 C532.1,438.0 532.3,443.9 532.5,450.0 C532.7,456.2 532.8,462.7 532.9,469.0 C533.1,475.3 533.2,481.7 533.4,488.0 C533.5,494.3 533.7,500.7 533.8,507.0 C533.9,513.3 534.0,519.7 534.0,526.0 C534.1,532.3 534.2,538.7 534.3,545.0 C534.3,551.3 534.4,557.7 534.5,564.0 C534.6,570.3 534.9,576.7 535.1,583.0 C535.4,589.3 535.6,595.7 535.8,602.0 C536.0,608.3 536.0,614.7 536.1,621.0 C536.2,627.3 536.2,634.0 536.4,640.0 C536.5,645.3 536.8,650.0 537.0,655.0 C537.1,660.0 537.3,665.0 537.5,670.0 C537.7,675.0 538.0,680.0 538.2,685.0 C538.5,690.0 538.8,694.7 539.0,700.0 C539.3,706.1 539.5,713.0 539.7,719.5 C539.9,726.0 540.1,732.5 540.4,739.0 C540.7,745.5 541.1,752.0 541.4,758.5 C541.7,765.0 542.0,772.2 542.4,778.0 C542.8,782.8 543.3,786.7 543.7,791.0 C544.1,795.3 544.4,800.1 545.0,804.0 C545.5,807.3 545.6,810.6 546.9,813.1 C548.1,815.3 550.0,817.1 552.1,818.3 C554.3,819.5 556.8,819.7 560.0,820.0 C565.0,820.5 572.9,820.0 579.3,820.0 C585.7,820.0 592.1,820.0 598.6,820.0 C605.0,820.0 611.4,820.0 617.8,820.0 C624.3,820.0 630.7,820.0 637.1,820.0 C643.5,820.0 650.0,820.0 656.4,820.0 C662.8,820.0 669.2,820.0 675.7,820.0 C682.1,820.0 688.5,820.0 694.9,820.0 C701.4,820.0 707.8,820.0 714.2,820.0 C720.6,820.0 727.1,820.0 733.5,820.0 C739.9,820.0 746.4,820.0 752.8,820.0 C759.2,820.0 765.6,820.0 772.1,820.0 C778.5,820.0 784.9,820.0 791.3,820.0 C797.8,820.0 804.2,820.0 810.6,820.0 C817.0,820.0 823.5,820.0 829.9,820.0 C836.3,820.0 842.7,820.0 849.2,820.0 C855.6,820.0 862.0,820.0 868.4,820.0 C874.9,820.0 881.3,820.0 887.7,820.0 C894.1,820.0 900.6,820.0 907.0,820.0" fill="none" stroke="#0000FF" stroke-width="2" stroke-dasharray="8 4" stroke-linejoin="round"/>
</g>
<rect x="122" y="123" width="815" height="724" fill="none" stroke="#000" stroke-width="2"/>
<line x1="106" y1="820" x2="122" y2="820" stroke="#000" stroke-width="2"/>
<text x="0" y="0" transform="translate(87.5,820) rotate(-90)" text-anchor="middle" class="t">0.0</text>
<line x1="106" y1="707" x2="122" y2="707" stroke="#000" stroke-width="2"/>
<text x="0" y="0" transform="translate(87.5,707) rotate(-90)" text-anchor="middle" class="t">0.2</text>
<line x1="106" y1="595" x2="122" y2="595" stroke="#000" stroke-width="2"/>
<text x="0" y="0" transform="translate(87.5,595) rotate(-90)" text-anchor="middle" class="t">0.4</text>
<line x1="106" y1="482" x2="122" y2="482" stroke="#000" stroke-width="2"/>
<text x="0" y="0" transform="translate(87.5,482) rotate(-90)" text-anchor="middle" class="t">0.6</text>
<line x1="106" y1="370" x2="122" y2="370" stroke="#000" stroke-width="2"/>
<text x="0" y="0" transform="translate(87.5,370) rotate(-90)" text-anchor="middle" class="t">0.8</text>
<line x1="106" y1="257" x2="122" y2="257" stroke="#000" stroke-width="2"/>
<text x="0" y="0" transform="translate(87.5,257) rotate(-90)" text-anchor="middle" class="t">1.0</text>
<line x1="106" y1="145" x2="122" y2="145" stroke="#000" stroke-width="2"/>
<text x="0" y="0" transform="translate(87.5,145) rotate(-90)" text-anchor="middle" class="t">1.2</text>
<line x1="221" y1="847" x2="221" y2="863" stroke="#000" stroke-width="2"/>
<text x="221.5" y="901" text-anchor="middle" class="t">-5</text>
<line x1="419" y1="847" x2="419" y2="863" stroke="#000" stroke-width="2"/>
<text x="419.5" y="901" text-anchor="middle" class="t">0</text>
<line x1="618" y1="847" x2="618" y2="863" stroke="#000" stroke-width="2"/>
<text x="618.5" y="901" text-anchor="middle" class="t">5</text>
<line x1="816" y1="847" x2="816" y2="863" stroke="#000" stroke-width="2"/>
<text x="816.5" y="901" text-anchor="middle" class="t">10</text>
<line x1="144" y1="153" x2="191" y2="153" stroke="#000000" stroke-width="2"/>
<text x="213" y="162" class="t" textLength="162.73" lengthAdjust="spacingAndGlyphs">gene (sd=1.38)</text>
<line x1="144" y1="183" x2="191" y2="183" stroke="#FF0000" stroke-width="2"/>
<text x="213" y="192" class="t" textLength="180.40" lengthAdjust="spacingAndGlyphs">mRNA (sd=1.36)</text>
<line x1="144" y1="213" x2="191" y2="213" stroke="#00CD00" stroke-width="2"/>
<text x="213" y="222" class="t" textLength="212.05" lengthAdjust="spacingAndGlyphs">divergent (sd=1.24)</text>
<line x1="144" y1="243" x2="191" y2="243" stroke="#0000FF" stroke-width="2"/>
<text x="213" y="252" class="t" textLength="159.74" lengthAdjust="spacingAndGlyphs">XUT (sd=1.44)</text>
<line x1="144" y1="273" x2="191" y2="273" stroke="#00FFFF" stroke-width="2"/>
<text x="213" y="282" class="t" textLength="147.21" lengthAdjust="spacingAndGlyphs">CUT (sd=1.3)</text>
<line x1="144" y1="303" x2="191" y2="303" stroke="#FF00FF" stroke-width="2"/>
<text x="213" y="312" class="t" textLength="158.72" lengthAdjust="spacingAndGlyphs">SUT (sd=1.39)</text>
<line x1="144" y1="333" x2="191" y2="333" stroke="#FFFF00" stroke-width="2"/>
<text x="213" y="342" class="t" textLength="168.54" lengthAdjust="spacingAndGlyphs">tRNA (sd=1.41)</text>
<line x1="144" y1="363" x2="191" y2="363" stroke="#BEBEBE" stroke-width="2"/>
<text x="213" y="372" class="t" textLength="199.08" lengthAdjust="spacingAndGlyphs">snoRNA (sd=0.74)</text>
<line x1="144" y1="393" x2="191" y2="393" stroke="#FF0000" stroke-width="2" stroke-dasharray="8 4"/>
<text x="213" y="402" class="t" textLength="156.34" lengthAdjust="spacingAndGlyphs">rRNA (sd=3.3)</text>
<line x1="144" y1="423" x2="191" y2="423" stroke="#00CD00" stroke-width="2" stroke-dasharray="8 4"/>
<text x="213" y="432" class="t" textLength="186.20" lengthAdjust="spacingAndGlyphs">ncRNA (sd=2.92)</text>
<line x1="144" y1="453" x2="191" y2="453" stroke="#0000FF" stroke-width="2" stroke-dasharray="8 4"/>
<text x="213" y="462" class="t" textLength="186.20" lengthAdjust="spacingAndGlyphs">snRNA (sd=0.45)</text>
</svg>
</body></html>
